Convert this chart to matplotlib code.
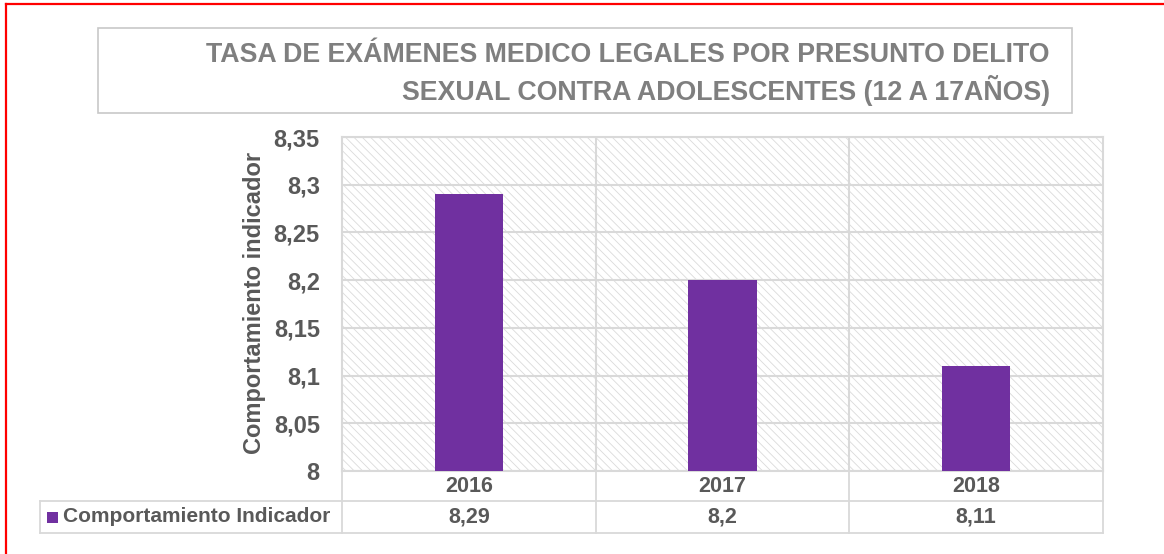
import matplotlib.pyplot as plt
from matplotlib.patches import Rectangle
from matplotlib.lines import Line2D

# data
years = ["2016", "2017", "2018"]
values = [8.29, 8.2, 8.11]
series_name = "Comportamiento Indicador"
y_label = "Comportamiento indicador"
y_ticks = [8, 8.05, 8.1, 8.15, 8.2, 8.25, 8.3, 8.35]
title_lines = ["TASA DE EXÁMENES MEDICO LEGALES POR PRESUNTO DELITO",
               "SEXUAL CONTRA ADOLESCENTES (12 A 17AÑOS)"]

W, H = 1164, 554
PURPLE = "#7030A0"
GRID = "#d9d9d9"
TXT = "#595959"

plt.rcParams['font.family'] = ['Liberation Sans', 'DejaVu Sans']
plt.rcParams['hatch.linewidth'] = 0.6


def fx(px):
    return px / W


def fy(py):
    return 1 - py / H


def comma(v):
    return f"{v:g}".replace(".", ",")


def hline(fig, y, x0, x1, color=GRID, lw=1.3):
    fig.add_artist(Line2D([fx(x0), fx(x1)], [fy(y), fy(y)], color=color, lw=lw,
                          transform=fig.transFigure))


def vline(fig, x, y0, y1, color=GRID, lw=1.3):
    fig.add_artist(Line2D([fx(x), fx(x)], [fy(y0), fy(y1)], color=color, lw=lw,
                          transform=fig.transFigure))


fig = plt.figure(figsize=(W / 100, H / 100), dpi=100)

# plot area
L, R, T, B = 342, 1103, 137, 471
ax = fig.add_axes([fx(L), fy(B), fx(R) - fx(L), fy(T) - fy(B)])
ax.set_facecolor("white")
ax.add_patch(Rectangle((0, 0), 1, 1, transform=ax.transAxes, facecolor="white",
                       edgecolor="#dadada", hatch="\\\\\\\\", linewidth=0, zorder=0))
x = list(range(len(years)))
ax.bar(x, values, width=0.27, color=PURPLE, zorder=3)
ax.set_xlim(-0.5, len(years) - 0.5)
ax.set_ylim(y_ticks[0], y_ticks[-1])
ax.set_yticks(y_ticks)
ax.set_yticklabels([comma(t) for t in y_ticks], fontsize=17, fontweight="bold", color=TXT)
ax.tick_params(axis="y", length=0, pad=16)
ax.set_xticks([])
ax.set_axisbelow(True)
ax.yaxis.grid(True, color=GRID, lw=1.5)
for b in range(1, len(years)):
    ax.axvline(b - 0.5, color=GRID, lw=1.5, zorder=1)
for s in ax.spines.values():
    s.set_color(GRID)
    s.set_linewidth(1.5)

fig.text(fx(254), fy(303), y_label, rotation=90, ha="center", va="center",
         fontsize=17, fontweight="bold", color=TXT)

# data table under the plot
col_w = (R - L) / len(years)
hline(fig, 501, 40, R)
hline(fig, 533, 40, R)
vline(fig, 40, 501, 533)
for i in range(len(years) + 1):
    vline(fig, L + i * col_w, B, 533)
for i, (yr, v) in enumerate(zip(years, values)):
    cx = L + (i + 0.5) * col_w
    fig.text(fx(cx), fy(486), yr, ha="center", va="center", fontsize=15.5,
             fontweight="bold", color=TXT)
    fig.text(fx(cx), fy(517), comma(v), ha="center", va="center", fontsize=15.5,
             fontweight="bold", color=TXT)
fig.add_artist(Rectangle((fx(47), fy(523)), fx(11), 11 / H, facecolor=PURPLE,
                         edgecolor="none", transform=fig.transFigure))
fig.text(fx(63), fy(517), series_name, ha="left", va="center", fontsize=15,
         fontweight="bold", color=TXT)

# title box
fig.add_artist(Rectangle((fx(98), fy(113)), fx(1072) - fx(98), (113 - 28) / H,
                         facecolor="none", edgecolor="#c8c8c8", lw=1.2,
                         transform=fig.transFigure))
fig.text(fx(1050), fy(55), title_lines[0], ha="right", va="center", fontsize=19.3,
         fontweight="bold", color="#7f7f7f")
fig.text(fx(1050), fy(90), title_lines[1], ha="right", va="center", fontsize=19.3,
         fontweight="bold", color="#7f7f7f")

# red frame
fig.add_artist(Line2D([fx(5.5), fx(5.5)], [fy(3.5), 0], color="red", lw=1.6,
                      transform=fig.transFigure))
fig.add_artist(Line2D([fx(5.5), 1], [fy(3.5), fy(3.5)], color="red", lw=1.6,
                      transform=fig.transFigure))

fig.savefig("out.png", dpi=100)
